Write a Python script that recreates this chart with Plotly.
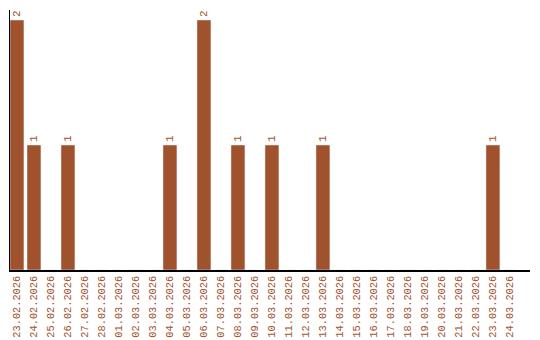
import plotly.graph_objects as go

dates = ["23.02.2026", "24.02.2026", "25.02.2026", "26.02.2026", "27.02.2026",
         "28.02.2026", "01.03.2026", "02.03.2026", "03.03.2026", "04.03.2026",
         "05.03.2026", "06.03.2026", "07.03.2026", "08.03.2026", "09.03.2026",
         "10.03.2026", "11.03.2026", "12.03.2026", "13.03.2026", "14.03.2026",
         "15.03.2026", "16.03.2026", "17.03.2026", "18.03.2026", "19.03.2026",
         "20.03.2026", "21.03.2026", "22.03.2026", "23.03.2026", "24.03.2026"]
counts = [2, 1, 0, 1, 0, 0, 0, 0, 0, 1,
          0, 2, 0, 1, 0, 1, 0, 0, 1, 0,
          0, 0, 0, 0, 0, 0, 0, 0, 1, 0]

color = "#A0522D"
labels = [str(v) if v else "" for v in counts]

fig = go.Figure(go.Bar(
    x=list(range(len(dates))), y=counts, marker_color=color,
    text=labels, textposition="outside", textangle=-90,
    textfont=dict(family="Liberation Mono", size=11, color=color),
    cliponaxis=False,
))
fig.update_layout(
    width=540, height=340,
    margin=dict(l=10, r=10, t=10, b=70),
    paper_bgcolor="white", plot_bgcolor="white",
    bargap=0.18, showlegend=False,
    font=dict(family="Liberation Mono", size=11, color=color),
)
fig.update_xaxes(
    tickmode="array", tickvals=list(range(len(dates))), ticktext=dates,
    tickangle=-90, range=[-0.41, 30.18], showline=True, linecolor="black",
    linewidth=1.5, ticks="", showgrid=False, zeroline=False, automargin=False,
    tickfont=dict(family="Liberation Mono", size=10.3, color=color),
)
fig.update_yaxes(
    range=[0, 2.08], showline=True, linecolor="black", linewidth=1,
    showticklabels=False, ticks="", showgrid=False, zeroline=False,
    automargin=False,
)
fig.write_html("out.html")
